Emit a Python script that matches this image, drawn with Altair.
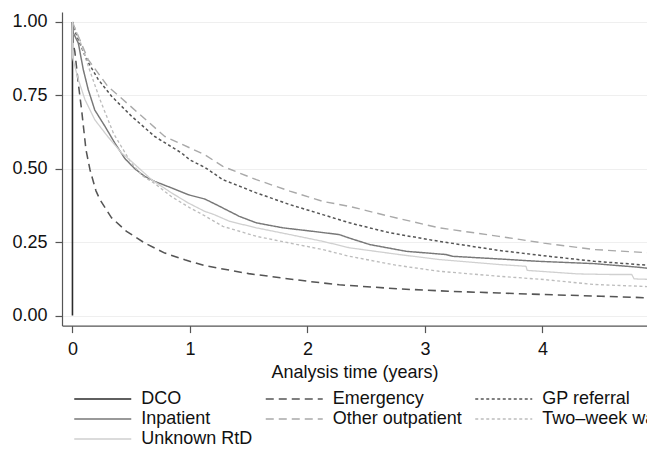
import altair as alt
import pandas as pd

# ---- data (Kaplan-Meier survival by route to diagnosis)
SERIES = ["DCO", "Emergency", "GP referral", "Inpatient",
          "Other outpatient", "Two\u2013week wait", "Unknown RtD"]

DCO_T = [0.0, 0.0]
DCO_S = [1.0, 0.0]

EMERG_T = [0.0, 0.005, 0.02, 0.05, 0.078, 0.115, 0.149, 0.2, 0.234, 0.333, 0.46,
           0.616, 0.786, 0.956, 1.126, 1.5, 2.0, 2.27, 2.78, 3.2, 3.63, 4.0, 4.5, 4.95, 5.0]
EMERG_S = [1.0, 0.93, 0.90, 0.79, 0.70, 0.565, 0.497, 0.425, 0.395, 0.333, 0.287,
           0.247, 0.213, 0.19, 0.17, 0.143, 0.117, 0.105, 0.091, 0.083, 0.077, 0.072, 0.066, 0.06, 0.06]

GP_T = [0.0, 0.03, 0.12, 0.22, 0.333, 0.503, 0.70, 0.928, 1.0, 1.126, 1.28, 1.565,
        1.85, 2.13, 2.357, 2.70, 3.12, 3.63, 4.01, 4.44, 4.95, 5.0]
GP_S = [1.0, 0.96, 0.872, 0.804, 0.747, 0.679, 0.61, 0.554, 0.53, 0.505, 0.463, 0.418,
        0.378, 0.344, 0.316, 0.282, 0.253, 0.222, 0.204, 0.185, 0.17, 0.169]

INPAT_T = [0.0, 0.007, 0.05, 0.092, 0.134, 0.19, 0.276, 0.36, 0.446, 0.531, 0.616, 0.70,
           0.843, 0.984, 1.126, 1.168, 1.253, 1.42, 1.565, 1.79, 2.046, 2.27, 2.357, 2.53,
           2.84, 3.18, 3.235, 3.63, 3.96, 4.44, 4.81, 4.95, 5.0]
INPAT_S = [1.0, 0.963, 0.928, 0.838, 0.77, 0.70, 0.645, 0.588, 0.535, 0.50, 0.474, 0.457,
           0.435, 0.412, 0.397, 0.389, 0.372, 0.338, 0.316, 0.299, 0.287, 0.276, 0.264, 0.242,
           0.219, 0.208, 0.202, 0.193, 0.185, 0.177, 0.165, 0.159, 0.158]

OTHER_T = [0.0, 0.03, 0.134, 0.30, 0.56, 0.786, 1.0, 1.126, 1.28, 1.565, 1.85, 2.13,
           2.357, 2.70, 3.12, 3.63, 4.01, 4.44, 4.95, 5.0]
OTHER_S = [1.0, 0.97, 0.872, 0.781, 0.69, 0.61, 0.571, 0.548, 0.508, 0.463, 0.424, 0.389,
           0.372, 0.338, 0.299, 0.27, 0.247, 0.225, 0.213, 0.212]

TWW_T = [0.0, 0.064, 0.134, 0.234, 0.35, 0.5, 0.6, 0.70, 0.843, 1.0, 1.126, 1.28, 1.565,
         1.85, 2.13, 2.357, 2.75, 3.12, 3.63, 4.01, 4.44, 4.95, 5.0]
TWW_S = [1.0, 0.935, 0.85, 0.736, 0.62, 0.52, 0.475, 0.45, 0.405, 0.367, 0.34, 0.304, 0.27,
         0.247, 0.225, 0.202, 0.172, 0.151, 0.134, 0.123, 0.106, 0.098, 0.097]

UNK_T = [0.0, 0.0, 0.05, 0.106, 0.19, 0.30, 0.418, 0.503, 0.673, 0.843, 0.984, 1.126,
         1.2, 1.338, 1.565, 1.85, 2.13, 2.357, 2.78, 3.12, 3.63, 3.86, 3.87, 4.30, 4.58,
         4.76, 4.78, 4.95, 5.0]
UNK_S = [1.0, 0.88, 0.804, 0.736, 0.667, 0.61, 0.554, 0.525, 0.463, 0.418, 0.384, 0.355,
         0.345, 0.321, 0.299, 0.276, 0.253, 0.231, 0.208, 0.191, 0.174, 0.168, 0.154, 0.142, 0.14,
         0.14, 0.125, 0.123, 0.122]

X_TICKS = [0, 1, 2, 3, 4, 5]
Y_TICKS = [0.0, 0.25, 0.5, 0.75, 1.0]

COLORS = ["#2b2b2b", "#555555", "#555555", "#787878", "#a9a9a9", "#bdbdbd", "#d0d0d0"]
DASHES = [[1, 0], [8, 5], [3, 2.5], [1, 0], [8, 5], [3, 2.5], [1, 0]]
WIDTHS = [1.6, 1.3, 1.3, 1.6, 1.3, 1.3, 2.0]

rows = []
for name, ts, ss in zip(SERIES,
                        [DCO_T, EMERG_T, GP_T, INPAT_T, OTHER_T, TWW_T, UNK_T],
                        [DCO_S, EMERG_S, GP_S, INPAT_S, OTHER_S, TWW_S, UNK_S]):
    for i, (t, s) in enumerate(zip(ts, ss)):
        rows.append({"route": name, "t": t, "s": s, "idx": i})
df = pd.DataFrame(rows)

FONT = "Liberation Sans"
PX_PER_YEAR = 117.5
X_MIN = -0.089
PLOT_W = 585
X_MAX = X_MIN + PLOT_W / PX_PER_YEAR

chart = alt.Chart(df).mark_line(strokeCap="butt", strokeJoin="round", clip=True).encode(
    x=alt.X("t:Q",
            scale=alt.Scale(domain=[X_MIN, X_MAX], nice=False, zero=False),
            axis=alt.Axis(values=X_TICKS, format="d", title="Analysis time (years)",
                          grid=False, tickSize=7, labelPadding=8,
                          titleBaseline="alphabetic", titleY=52)),
    y=alt.Y("s:Q",
            scale=alt.Scale(domain=[-0.034, 1.034], nice=False, zero=False),
            axis=alt.Axis(values=Y_TICKS, format=".2f", title=None,
                          grid=True, tickSize=7, labelPadding=8)),
    color=alt.Color("route:N", sort=SERIES,
                    scale=alt.Scale(domain=SERIES, range=COLORS),
                    legend=alt.Legend(title=None, orient="none", legendX=13, legendY=378,
                                      direction="horizontal",
                                      columns=3, columnPadding=9.5, rowPadding=2,
                                      symbolType="M-14.25,0H14.25", symbolSize=16,
                                      symbolOffset=18.75,
                                      labelOffset=29.5, labelFontSize=18, labelFont=FONT,
                                      labelColor="#111111", padding=0)),
    strokeDash=alt.StrokeDash("route:N", sort=SERIES,
                              scale=alt.Scale(domain=SERIES, range=DASHES), legend=None),
    strokeWidth=alt.StrokeWidth("route:N", sort=SERIES,
                                scale=alt.Scale(domain=SERIES, range=WIDTHS), legend=None),
    order=alt.Order("idx:Q"),
).properties(
    width=PLOT_W,
    height=313.6,
    autosize=alt.AutoSizeParams(type="none"),
    padding={"left": 54, "top": 4, "right": 0, "bottom": 122},
).configure_view(
    stroke=None
).configure_axis(
    labelFont=FONT, titleFont=FONT, labelFontSize=18, titleFontSize=18,
    titleFontWeight="normal", labelColor="#111111", titleColor="#111111",
    domainColor="#555555", tickColor="#555555", domainWidth=1.2, tickWidth=1.2,
    gridColor="#efefef", gridWidth=1.2,
).configure_legend(
    symbolStrokeWidth=1.5
)

chart.save("out.html", embed_options={"renderer": "svg", "actions": False})
